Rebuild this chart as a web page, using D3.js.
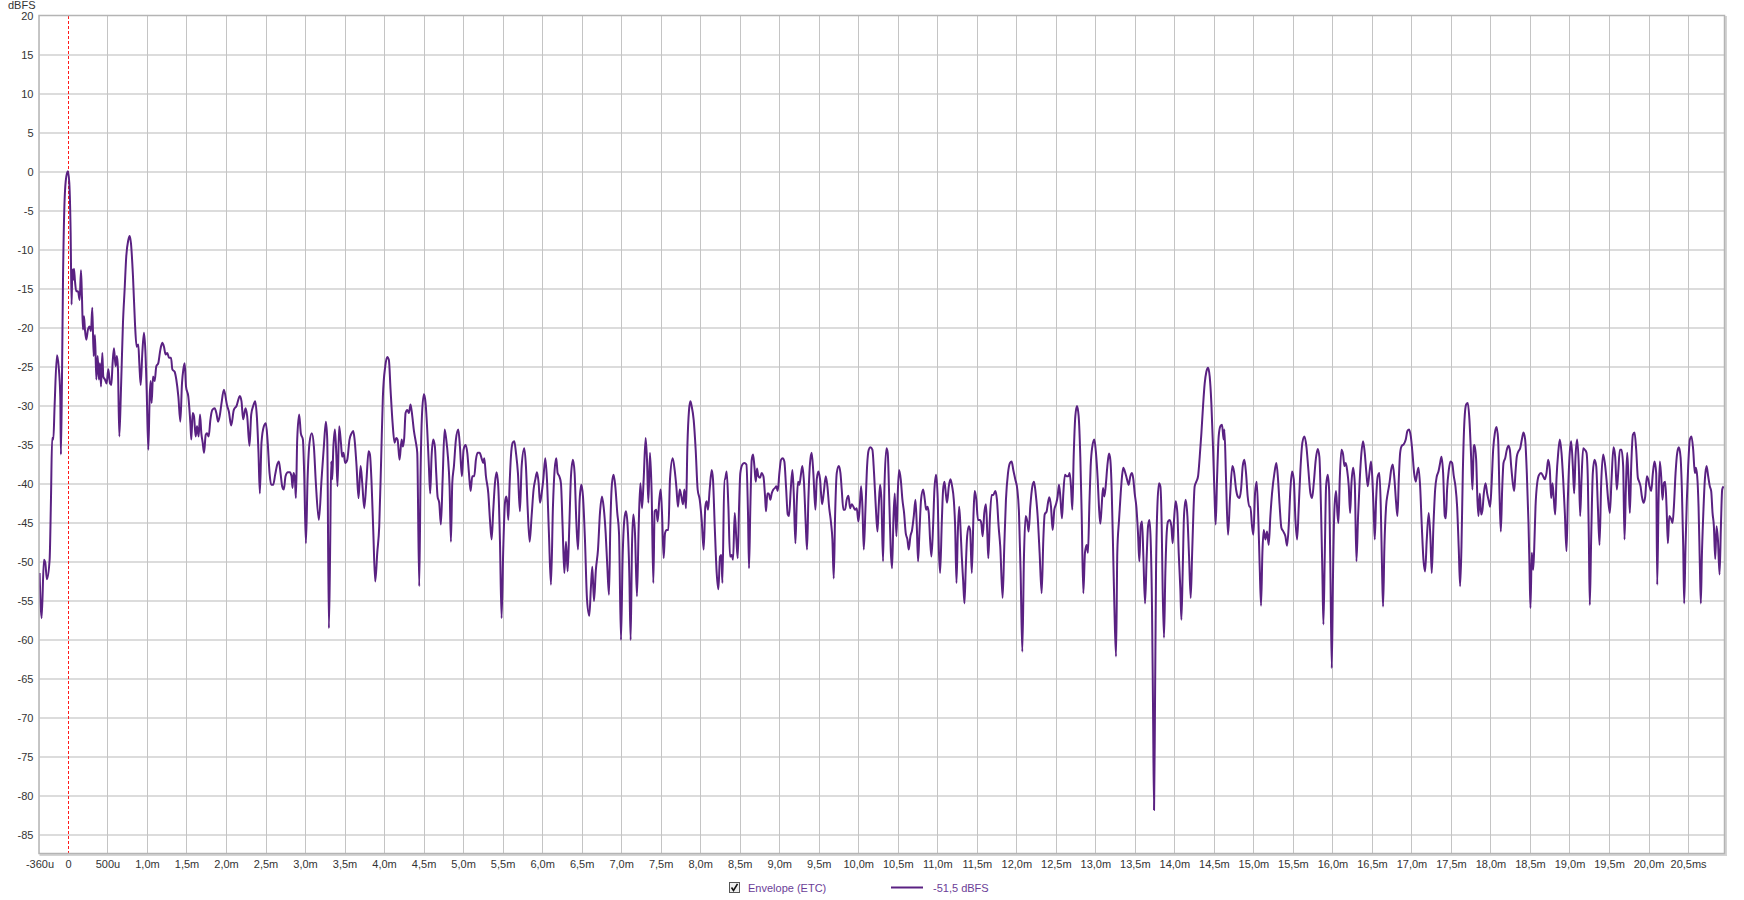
<!DOCTYPE html>
<html>
<head>
<meta charset="utf-8">
<script src="https://cdn.jsdelivr.net/npm/d3@7/dist/d3.min.js"></script>
<style>
  html, body { margin: 0; padding: 0; background: #ffffff; }
  svg { display: block; }
  text { font-family: "Liberation Sans", Arial, sans-serif; }
</style>
</head>
<body>
<svg id="chart" width="1744" height="900"></svg>
<script>
// ---- data (time in ms, level in dBFS) ----
const etcTimeMs = [
  -0.359,-0.333,-0.304,-0.287,-0.266,-0.232,-0.215,-0.2,-0.185,-0.169,-0.139,-0.118,-0.097,-0.089,-0.076,-0.063,-0.042,-0.021,0,0.017,
  0.034,0.046,0.055,0.068,0.076,0.089,0.105,0.127,0.148,0.165,0.177,0.19,0.203,0.215,0.232,0.253,0.274,0.291,0.308,0.325,
  0.342,0.359,0.376,0.392,0.405,0.418,0.435,0.447,0.468,0.489,0.511,0.532,0.549,0.565,0.582,0.603,0.62,0.633,0.65,0.671,
  0.696,0.717,0.738,0.764,0.781,0.797,0.823,0.848,0.869,0.89,0.903,0.92,0.941,0.962,0.979,0.996,1.017,1.034,1.046,1.059,
  1.076,1.097,1.118,1.143,1.169,1.194,1.215,1.236,1.257,1.278,1.304,1.321,1.35,1.371,1.397,1.422,1.443,1.46,1.477,1.494,
  1.523,1.549,1.561,1.578,1.595,1.616,1.633,1.654,1.671,1.688,1.705,1.722,1.743,1.759,1.781,1.802,1.827,1.857,1.878,1.899,
  1.92,1.941,
  1.973,2.015,2.036,2.065,2.099,2.133,2.175,2.196,2.217,2.247,2.268,2.297,2.319,2.344,2.369,2.39,2.411,2.428,2.449,2.479,
  2.504,2.525,2.551,2.572,2.597,2.622,2.648,2.669,2.69,2.711,2.732,2.753,2.783,2.808,2.829,2.842,2.854,2.871,2.884,2.901,
  2.926,2.947,2.973,2.989,3.011,3.032,3.057,3.086,3.112,3.137,3.175,3.209,3.238,3.264,3.281,3.302,3.319,3.331,3.344,3.357,
  3.378,3.395,3.411,3.432,3.454,3.47,3.487,3.508,3.534,3.563,3.589,3.61,3.627,3.652,3.677,3.703,3.724,3.749,3.778,3.804,
  3.821,3.842,3.863,3.888,3.914,3.939,3.964,3.985,4.015,4.04,4.061,4.082,4.108,4.133,4.154,4.171,4.196,4.222,4.238,4.255,
  4.272,4.293,4.314,4.335,4.357,4.378,4.403,4.42,4.445,4.462,4.479,4.504,4.525,4.546,4.567,4.584,4.601,4.622,4.643,4.66,
  4.677,4.698,4.719,4.741,4.766,4.787,4.808,4.829,4.846,4.863,4.884,4.909,4.939,4.96,4.985,5.006,5.032,5.053,5.074,5.095,
  5.116,
  5.141,5.162,5.184,5.209,5.234,5.255,5.268,5.289,5.319,5.34,5.361,5.382,5.403,5.424,5.445,5.466,5.487,5.508,5.53,5.546,
  5.559,5.572,5.589,5.605,5.627,5.648,5.669,5.694,5.719,5.741,5.774,5.795,5.816,5.842,5.867,5.892,5.914,5.935,5.956,5.973,
  5.994,6.015,6.04,6.061,6.086,6.112,6.137,6.158,6.179,6.196,6.217,6.238,6.259,6.281,6.302,6.323,6.344,6.365,6.39,6.411,
  6.432,6.454,6.475,6.496,6.517,6.542,6.568,6.597,6.618,6.635,6.656,6.68,6.707,6.732,6.757,6.778,6.804,6.825,6.846,6.863,
  6.884,6.905,6.926,6.951,6.973,6.998,7.019,7.04,7.061,7.082,7.103,7.12,7.137,7.154,7.175,7.2,7.222,7.243,7.264,7.285,
  7.31,7.327,7.344,7.365,7.386,7.407,7.424,7.445,7.462,7.483,7.5,7.517,7.538,7.555,7.576,7.597,7.618,7.652,7.677,7.698,
  7.719,7.741,7.762,7.783,7.8,7.821,7.838,7.859,7.876,7.892,7.918,7.943,7.968,7.994,8.019,8.044,8.065,8.082,8.099,8.12,
  8.146,8.162,8.184,8.209,8.23,8.251,8.268,8.281,8.306,
  8.314,8.335,8.357,8.378,8.399,8.416,8.437,8.458,8.475,8.492,8.508,8.534,8.559,8.585,8.605,8.618,8.635,8.652,8.669,8.686,
  8.703,8.719,8.736,8.757,8.778,8.8,8.821,8.833,8.85,8.867,8.888,8.905,8.926,8.947,8.964,8.981,9.002,9.023,9.044,9.065,
  9.086,9.108,9.124,9.146,9.167,9.184,9.205,9.222,9.238,9.255,9.272,9.293,9.314,9.335,9.352,9.369,9.39,9.411,9.432,9.458,
  9.475,9.496,9.517,9.542,9.563,9.589,9.61,9.631,9.656,9.673,9.69,9.707,9.728,9.754,9.775,9.791,9.812,9.833,9.854,9.876,
  9.897,9.918,9.939,9.96,9.981,10.002,10.019,10.036,10.053,10.07,10.091,10.112,10.133,10.154,10.179,10.2,10.222,10.243,10.259,10.276,
  10.293,10.314,10.331,10.357,10.373,10.395,10.411,10.428,10.445,10.462,10.483,10.5,10.517,10.538,10.559,10.58,10.601,10.622,10.639,10.66,
  10.681,10.703,10.724,10.741,10.757,10.774,10.795,10.821,10.842,10.859,10.876,10.892,10.909,10.926,10.947,10.964,10.985,11.006,11.019,11.036,
  11.057,11.074,11.091,11.108,11.124,11.146,11.167,11.188,11.209,11.226,11.243,11.26,11.277,11.293,11.31,11.327,11.344,11.361,11.378,11.399,
  11.416,11.437,11.458,
  11.473,11.494,11.515,11.54,11.557,11.574,11.595,11.616,11.633,11.646,11.667,11.688,11.709,11.734,11.755,11.776,11.797,11.827,11.848,11.869,
  11.895,11.92,11.941,11.962,11.987,12.013,12.034,12.055,12.076,12.097,12.118,12.139,12.156,12.177,12.203,12.224,12.245,12.27,12.295,12.321,
  12.342,12.359,12.384,12.401,12.418,12.439,12.46,12.481,12.502,12.523,12.54,12.557,12.578,12.595,12.616,12.637,12.658,12.675,12.692,12.709,
  12.726,12.747,12.768,12.789,12.81,12.827,12.848,12.869,12.89,12.907,12.924,12.941,12.962,12.987,13.008,13.03,13.046,13.063,13.08,13.097,
  13.114,13.131,13.152,13.173,13.19,13.207,13.224,13.241,13.262,13.278,13.3,13.321,13.338,13.354,13.38,13.401,13.422,13.443,13.464,13.481,
  13.498,13.519,13.54,13.557,13.574,13.591,13.608,13.629,13.65,13.667,13.684,13.7,13.717,13.73,13.743,13.755,13.768,13.785,13.806,13.823,
  13.84,13.852,13.869,13.886,13.903,13.92,13.941,13.962,13.979,13.996,14.017,14.038,14.055,14.076,14.089,14.105,14.122,14.143,14.165,14.186,
  14.207,14.224,14.241,14.257,14.278,14.3,14.321,14.342,14.363,14.384,14.405,14.426,14.447,14.468,14.489,14.506,14.523,14.54,14.561,14.582,
  14.603,14.624,
  14.633,14.654,14.679,14.705,14.734,14.755,14.781,14.802,14.823,14.844,14.865,14.886,14.907,14.928,14.949,14.962,14.983,15.0,15.021,15.042,
  15.063,15.08,15.097,15.114,15.131,15.152,15.173,15.194,15.215,15.236,15.266,15.291,15.312,15.333,15.354,15.38,15.405,15.426,15.447,15.468,
  15.489,15.511,15.532,15.553,15.574,15.595,15.62,15.646,15.671,15.696,15.722,15.743,15.764,15.789,15.814,15.835,15.857,15.873,15.886,15.903,
  15.92,15.941,15.958,15.975,15.992,16.008,16.025,16.046,16.063,16.076,16.093,16.114,16.135,16.152,16.169,16.186,16.207,16.224,16.241,16.262,
  16.283,16.304,16.325,16.346,16.367,16.388,16.409,16.43,16.447,16.468,16.489,16.506,16.523,16.536,16.553,16.574,16.595,16.612,16.629,16.641,
  16.658,16.679,16.7,16.722,16.743,16.764,16.785,16.806,16.823,16.84,16.857,16.878,16.903,16.928,16.949,16.97,16.992,17.013,17.034,17.055,
  17.072,17.089,17.11,17.131,17.152,17.173,17.194,17.219,17.241,17.257,17.278,17.3,17.321,17.342,17.363,17.38,17.401,17.422,17.435,17.451,
  17.473,17.494,17.515,17.536,17.557,17.578,17.599,17.616,17.633,17.65,17.671,17.692,17.713,17.734,17.755,17.772,17.789,
  17.797,17.819,17.835,17.848,17.865,17.882,17.899,17.916,17.937,17.958,17.979,17.996,18.013,18.034,18.055,18.076,18.097,18.114,18.131,18.148,
  18.165,18.186,18.207,18.228,18.245,18.262,18.283,18.3,18.316,18.333,18.354,18.376,18.397,18.418,18.439,18.46,18.481,18.494,18.506,18.523,
  18.54,18.553,18.57,18.591,18.616,18.641,18.667,18.688,18.709,18.73,18.751,18.768,18.785,18.802,18.819,18.835,18.857,18.878,18.899,18.92,
  18.941,18.962,18.979,19.0,19.021,19.042,19.059,19.076,19.097,19.118,19.135,19.152,19.173,19.194,19.215,19.232,19.245,19.257,19.274,19.295,
  19.316,19.338,19.359,19.38,19.401,19.426,19.447,19.468,19.489,19.511,19.532,19.557,19.578,19.599,19.616,19.637,19.658,19.679,19.696,19.713,
  19.73,19.747,19.764,19.781,19.802,19.823,19.844,19.865,19.882,19.899,19.916,19.937,19.958,19.979,19.996,20.013,20.034,20.055,20.076,20.097,
  20.11,20.127,20.143,20.16,20.177,20.194,20.211,20.228,20.245,20.262,20.283,20.304,20.321,20.342,20.363,20.384,20.405,20.422,20.439,20.451,
  20.468,20.485,20.502,20.523,20.544,20.565,20.586,20.599,20.616,20.633,20.65,20.662,20.675,20.692,20.713,20.734,20.755,20.776,20.793,20.81,
  20.827,20.844,20.861,20.878,20.899,20.916,20.932,20.949
];
const etcLevelDb = [
  -51.4,-57.2,-49.7,-50.1,-52.2,-49.7,-42,-34.1,-34.3,-30,-23.5,-24.9,-28.8,-36.2,-27,-14.2,-3.5,-0.6,0.1,-1.4,
  -7.8,-17,-12.5,-13.8,-12.4,-14,-15.3,-15.3,-16.4,-12.6,-15.9,-20.2,-18.5,-20.2,-21.5,-20.2,-19.8,-20.4,-17.4,-23.6,
  -20.9,-26.6,-23.6,-26.6,-24.5,-27.5,-23.2,-26.2,-26.6,-27.1,-25.3,-27.1,-27.3,-24.5,-22.6,-24.9,-23.6,-25.3,-33.9,-27.9,
  -19.4,-15.1,-10.8,-8.7,-8.2,-9.1,-13.4,-19.4,-22.4,-22.1,-24.5,-27.3,-23.2,-20.6,-22.8,-27.9,-35.6,-28.8,-26.8,-29.6,
  -26.2,-26.8,-24.9,-24.5,-22.8,-21.9,-22.4,-23.4,-23.2,-23.8,-23.8,-25.3,-25.6,-26.6,-28.8,-32,-27.1,-25.3,-24.5,-27.5,
  -28.8,-32.2,-34.3,-30.9,-31.3,-33.9,-32.6,-33.9,-31.1,-33.5,-34.7,-36,-33.7,-33.5,-33.9,-31.8,-30.5,-30.3,-30.9,-32,
  -31.3,-29.8,
  -27.9,-30,-30.7,-32.5,-30.5,-30,-28.7,-29.4,-31.7,-30.3,-31.3,-35.1,-31.1,-30,-29.4,-31.3,-36,-41.2,-34.7,-32.6,
  -32.2,-34.3,-38.6,-40.1,-40.1,-38.8,-37.5,-37.1,-38.6,-40.3,-40.7,-39,-38.5,-38.5,-39,-40.5,-38.6,-39.2,-41.8,-34.3,
  -31.1,-33.5,-34.3,-38.6,-47.6,-39.4,-34.7,-33.5,-35.2,-39.9,-44.6,-39.4,-35.2,-32,-34.3,-58.5,-47.1,-37.1,-39.4,-35.6,
  -33,-36,-40.3,-32.6,-34.7,-36.5,-36,-37.3,-36.9,-34.3,-33.5,-33.2,-34.3,-37.7,-41.8,-37.7,-39.9,-43.1,-39.4,-35.8,
  -36.2,-39.9,-45.9,-52.5,-48.8,-45.4,-36.5,-28.8,-24.9,-23.7,-24.1,-27.9,-32.2,-34.7,-34.1,-34.3,-36.9,-34.3,-35.2,-34.1,
  -30.9,-30.5,-30.9,-29.8,-31.3,-33.2,-34.7,-36,-53.1,-38.6,-31.3,-28.5,-29.6,-33,-37.7,-41.2,-36.5,-34.3,-35.2,-38.6,
  -41.6,-42.4,-45.2,-39.4,-33,-34.3,-36.5,-40.3,-47.4,-39.9,-37.7,-34.3,-33,-35.2,-39,-35.6,-35,-36,-38.6,-40.9,
  -39,
  -39,-36.9,-36,-36,-36.7,-37.3,-36.7,-39,-41.2,-44.6,-47.1,-43.3,-39.9,-38.5,-40.3,-47.1,-57.2,-48.4,-42.4,-41.6,
  -42.4,-44.6,-39.9,-36.5,-34.7,-34.5,-36,-38.6,-43.5,-37.7,-35.4,-37.7,-42.9,-47.4,-44.1,-40.7,-39.4,-38.5,-39.9,-42.4,
  -41.2,-39.4,-36.7,-39.4,-46.3,-52.9,-42.9,-38.2,-36.7,-38.6,-39,-39.9,-45.4,-51.4,-47.4,-51.2,-45.4,-39,-36.9,-38.6,
  -44.6,-48.4,-42,-40.1,-41.6,-47.1,-54.8,-56.9,-53.1,-50.6,-55,-51,-48.4,-43.7,-41.6,-42.9,-46.3,-50.6,-54.2,-45.4,
  -39.9,-38.8,-40.3,-43.7,-46.3,-60,-49.3,-44.6,-43.5,-45.4,-51.4,-60,-48,-43.9,-46.3,-54.4,-45.4,-39.9,-43.1,-39.4,
  -34.1,-36.9,-42.4,-36,-41.2,-52.7,-43.5,-43.3,-44.8,-42,-40.7,-43.7,-49.5,-46.3,-45.9,-45.9,-39.4,-36.7,-38.2,-40.3,
  -42.9,-40.7,-41.6,-42.6,-40.7,-43.1,-35.2,-30.5,-29.4,-30,-31.8,-35.6,-40.7,-42,-44.6,-48.4,-42.9,-42.2,-43.3,-40.7,
  -38.2,-39.4,-45.4,-51.4,-53.5,-49.3,-49.1,-52.7,-39.4,
  -39.4,-38.4,-42.9,-49.3,-49.1,-49.7,-43.7,-47.1,-49.5,-42.9,-38.6,-37.5,-37.3,-37.5,-43.7,-50.8,-42.9,-36.9,-36.2,-37.7,
  -39.7,-38,-39,-39.2,-38.6,-39,-41.6,-43.5,-41.2,-41.2,-42,-41.2,-40.7,-40.5,-40.3,-40.9,-38.6,-36.9,-36.7,-37.1,
  -40.3,-43.9,-44.1,-40.7,-38.2,-41.2,-47.6,-42.4,-39.7,-40.1,-39,-37.7,-39.9,-45,-48.4,-42,-37.3,-36,-38.6,-43.3,
  -39.4,-38.4,-39.4,-42.6,-41.2,-39,-40.3,-42.9,-45,-47.1,-52.1,-44.1,-38.6,-37.7,-38.6,-40.7,-43.3,-43.3,-42,-41.5,
  -43.1,-42.6,-42.9,-43.3,-43.1,-44.8,-42.9,-40.3,-42.9,-48.4,-43.3,-37.7,-35.6,-35.3,-35.6,-38.6,-42.9,-46.1,-42.9,-40.1,
  -42,-49.9,-40.7,-35.4,-36,-42.9,-48.4,-50.8,-44.6,-41.2,-46.7,-41.2,-38.2,-39.4,-42,-43.7,-46.3,-47.1,-48.4,-46.7,
  -45.9,-44.1,-42,-45.4,-49.9,-46.3,-42,-40.7,-42,-43.3,-42.9,-43.7,-47.1,-49.3,-45.4,-40.7,-38.8,-42,-48,-51.4,
  -45,-40.7,-39.7,-41.2,-42.4,-40.3,-39.4,-40.3,-42,-45.4,-52.7,-46.3,-42.9,-45.4,-49.3,-52.3,-55.3,-50.6,-46.7,-45.4,
  -45.9,-51.4,-44.1,
  -40.9,-42,-44.6,-44.6,-45,-46.7,-43.7,-42.6,-46.3,-49.5,-44.1,-41.4,-41.4,-40.9,-42,-45.4,-48,-54.6,-48,-42,
  -38.6,-37.3,-37.1,-38.2,-39.4,-40.7,-43.7,-51.4,-61.5,-49.3,-44.1,-44.8,-46.1,-42.9,-40.3,-39.7,-41.2,-44.1,-48.8,-54,
  -47.1,-43.9,-43.5,-42.4,-41.7,-42.9,-45.9,-43.3,-42.6,-41.6,-40.1,-41.6,-44.4,-41.2,-38.8,-39,-39,-38.6,-40.3,-43.3,
  -36.5,-31.3,-30,-31.3,-36.5,-43.7,-54,-48.8,-47.8,-48.8,-42.9,-37.7,-35.2,-34.3,-36,-39.4,-42.9,-45.1,-42.9,-40.5,
  -41.6,-40.3,-37.7,-36.1,-36.9,-40.7,-48,-55.7,-62.1,-48.8,-44.6,-41.2,-39,-37.9,-38.6,-39.4,-40.1,-39,-38.6,-39.4,
  -41.2,-42.9,-46.3,-49.9,-45.4,-44.8,-49.3,-55.3,-49.3,-45.4,-44.6,-47.1,-55.7,-68.5,-81.8,-68.5,-51.4,-42.9,-39.9,-40.3,
  -45.4,-53.5,-59.7,-51.4,-46.3,-44.8,-44.6,-45.4,-47.6,-44.6,-42.2,-43.7,-48.8,-53.5,-57.4,-51.4,-44.1,-42,-44.1,-49.3,
  -54.6,-49.3,-43.7,-40.3,-39.7,-39,-36.5,-33.5,-30,-27.1,-25.6,-25.1,-26.2,-29.6,-35.2,-40.7,-45.2,-39.4,-33.9,-32.6,
  -32.4,-34.3,
  -33,-39.4,-46.5,-41.6,-37.7,-38.4,-40.7,-41.6,-41.8,-40.7,-37.7,-36.9,-38.6,-41.6,-42.9,-42.9,-45.4,-46.5,-41.2,-39.7,
  -44.6,-50.6,-55.6,-48.8,-45.9,-47.1,-46.1,-47.8,-44.1,-41.2,-38.6,-37.3,-39.4,-42.9,-45.6,-46.1,-46.7,-47.9,-45.4,-40.7,
  -38.4,-39.4,-44.6,-47.1,-42.9,-38.2,-34.7,-33.9,-35.2,-38.2,-41.2,-41.8,-39.9,-36.9,-35.5,-36.5,-43.7,-51.4,-58,-49.3,
  -40.3,-38.8,-40.7,-51.4,-63.6,-51.4,-43.3,-40.9,-43.7,-45,-39.4,-35.6,-36.2,-37.7,-37.3,-38.2,-40.3,-43.7,-39.9,-37.9,
  -39.9,-49.9,-44.1,-39.4,-36,-34.5,-36,-38.6,-40.3,-38.6,-37.1,-39.4,-43.7,-47.1,-42,-39,-38.6,-42.9,-51.4,-55.7,
  -48,-42.9,-41.2,-39.9,-38.2,-37.5,-39.4,-42.4,-44.1,-39.4,-36,-35.1,-34.9,-34.3,-33.2,-33,-33.9,-36,-38.6,-39.7,
  -38.6,-37.9,-40.3,-45.4,-49.7,-51.2,-47.1,-43.7,-47.1,-51.4,-45.4,-40.7,-39,-38.4,-37.3,-36.5,-38.6,-44.1,-44.4,-40.7,
  -38.2,-37.1,-37.3,-39,-40.3,-42.9,-48.4,-53.1,-48,-38.6,-31.8,-29.8,-29.6,-31.8,-36.5,-40.7,-35.2,
  -35,-36.9,-42,-44.1,-41.2,-43.9,-43.3,-41.2,-39.9,-41.2,-42.2,-42.9,-40.3,-35.6,-33.5,-32.7,-34.3,-41.2,-46.1,-40.7,
  -37.3,-36.7,-35.6,-35.1,-35.6,-37.7,-39.9,-40.9,-38.6,-36.5,-35.8,-35.4,-34.3,-33.4,-34.3,-38.6,-45,-50.6,-55.9,-48.8,
  -51,-48.4,-42.9,-39.9,-38.8,-38.6,-39,-39.4,-38.6,-36.9,-38.2,-41.8,-39.9,-42,-43.9,-39.4,-36,-34.3,-36,-39.4,
  -43.7,-48.6,-42,-36.5,-34.5,-37.7,-41.2,-36.5,-34.3,-37.7,-44.1,-39.4,-35.4,-35.6,-36,-39.4,-47.1,-55.5,-47.1,-38.6,
  -36.9,-37.7,-42.9,-47.8,-39.9,-36.2,-37.3,-39.4,-42,-43.7,-39.4,-35.3,-36.5,-40.7,-38.6,-35.6,-35.6,-37.7,-47.1,-40.7,
  -36,-39.4,-43.7,-37.7,-33.7,-33.4,-35.6,-39.2,-39.7,-40.3,-41.6,-42.4,-41.6,-39,-39.4,-40.3,-40.9,-38.6,-37.1,-38.6,
  -52.9,-42,-37.1,-39,-42,-39.9,-39.7,-42.9,-47.6,-44.1,-44.4,-45,-42.9,-38.6,-36,-35.3,-36.5,-40.7,-48,-55.3,
  -48,-42,-37.7,-34.3,-33.9,-35.6,-38.6,-37.9,-39,-42.9,-50.6,-55.3,-49.3,-44.1,-39.4,-37.7,-39,-40.3,-40.9,-43.7,
  -45.4,-49.6,-45.4,-47.1,-51.6,-45.4,-40.7,-40.3
];

// ---- axes ----
const yTicks = [20,15,10,5,0,-5,-10,-15,-20,-25,-30,-35,-40,-45,-50,-55,-60,-65,-70,-75,-80,-85];
const xTickValues = [-0.36,0,0.5,1,1.5,2,2.5,3,3.5,4,4.5,5,5.5,6,6.5,7,7.5,8,8.5,9,9.5,10,10.5,11,11.5,12,12.5,13,13.5,14,14.5,15,15.5,16,16.5,17,17.5,18,18.5,19,19.5,20,20.5];
const xTickLabels = ["-360u","0","500u","1,0m","1,5m","2,0m","2,5m","3,0m","3,5m","4,0m","4,5m","5,0m","5,5m","6,0m","6,5m","7,0m","7,5m","8,0m","8,5m","9,0m","9,5m","10,0m","10,5m","11,0m","11,5m","12,0m","12,5m","13,0m","13,5m","14,0m","14,5m","15,0m","15,5m","16,0m","16,5m","17,0m","17,5m","18,0m","18,5m","19,0m","19,5m","20,0m","20,5ms"];
const xDomain = [-0.36, 20.955];
const yDomain = [-87.3, 20];
const yAxisTitle = "dBFS";
const legendLabel = "Envelope (ETC)";
const legendValue = "-51,5 dBFS";

// ---- layout ----
const plot = { left: 39.5, top: 16, right: 1724, bottom: 853 };
const lineColor = "#5a2182";

const svg = d3.select("#chart");
const x = d3.scaleLinear().domain(xDomain).range([plot.left, plot.right]);
const y = d3.scaleLinear().domain(yDomain).range([plot.bottom, plot.top]);

// frame shadow
svg.append("rect")
  .attr("x", plot.left + 1).attr("y", plot.top + 1)
  .attr("width", plot.right - plot.left + 1).attr("height", plot.bottom - plot.top + 1)
  .attr("fill", "none").attr("stroke", "#d4d4d4").attr("stroke-width", 2);

// plot background
svg.append("rect")
  .attr("x", plot.left).attr("y", plot.top)
  .attr("width", plot.right - plot.left).attr("height", plot.bottom - plot.top)
  .attr("fill", "#ffffff");

// horizontal grid
const gGrid = svg.append("g");
gGrid.selectAll("line.h").data(yTicks.filter(v => v < 20)).join("line")
  .attr("class", "h")
  .attr("x1", plot.left).attr("x2", plot.right)
  .attr("y1", d => Math.round(y(d))).attr("y2", d => Math.round(y(d)))
  .attr("stroke", "#dcdcdc").attr("stroke-width", 2);

// vertical grid
gGrid.selectAll("line.v").data(xTickValues.filter(v => v > 0)).join("line")
  .attr("class", "v")
  .attr("x1", d => Math.round(x(d)) + 0.5).attr("x2", d => Math.round(x(d)) + 0.5)
  .attr("y1", plot.top).attr("y2", plot.bottom)
  .attr("stroke", "#c4c4c4").attr("stroke-width", 1);

// zero marker (red dashed)
svg.append("line")
  .attr("x1", Math.round(x(0)) + 0.5).attr("x2", Math.round(x(0)) + 0.5)
  .attr("y1", plot.top).attr("y2", plot.bottom)
  .attr("stroke", "#ff1a1a").attr("stroke-width", 1).attr("stroke-dasharray", "3,2");

// frame
svg.append("rect")
  .attr("x", plot.left - 0.5).attr("y", plot.top - 0.5)
  .attr("width", plot.right - plot.left + 1).attr("height", plot.bottom - plot.top + 1)
  .attr("fill", "none").attr("stroke", "#b4b4b4").attr("stroke-width", 1.5);

// clip
svg.append("clipPath").attr("id", "clip").append("rect")
  .attr("x", plot.left).attr("y", plot.top)
  .attr("width", plot.right - plot.left).attr("height", plot.bottom - plot.top);

const data = etcTimeMs.map((t, i) => [t, etcLevelDb[i]]);
const line = d3.line().x(d => x(d[0])).y(d => y(d[1])).curve(d3.curveMonotoneX);
svg.append("path")
  .datum(data)
  .attr("clip-path", "url(#clip)")
  .attr("d", line)
  .attr("fill", "none")
  .attr("stroke", lineColor)
  .attr("stroke-width", 2)
  .attr("stroke-linejoin", "round");

// y axis labels
const yAxis = d3.axisLeft(y).tickValues(yTicks).tickSize(0).tickPadding(5).tickFormat(d => String(d));
const gy = svg.append("g").attr("transform", `translate(${plot.left - 1},0)`).call(yAxis);
gy.select(".domain").remove();
gy.selectAll("text").attr("font-size", 11).attr("fill", "#333").attr("font-family", "Liberation Sans, Arial, sans-serif");

// x axis labels
const xAxis = d3.axisBottom(x).tickValues(xTickValues).tickSize(0).tickPadding(7)
  .tickFormat((d, i) => xTickLabels[i]);
const gx = svg.append("g").attr("transform", `translate(0,${plot.bottom})`).call(xAxis);
gx.select(".domain").remove();
gx.selectAll("text").attr("font-size", 11).attr("fill", "#333").attr("font-family", "Liberation Sans, Arial, sans-serif");
// first label sits left of the frame edge
gx.selectAll(".tick").filter((d, i) => i === 0).select("text").attr("dx", 0);

// y title
svg.append("text").attr("x", 8).attr("y", 9)
  .attr("font-size", 11).attr("fill", "#333").text(yAxisTitle);

// legend
const lg = svg.append("g").attr("transform", "translate(729,882)");
lg.append("rect").attr("x", 0.5).attr("y", 0.5).attr("width", 10).attr("height", 10)
  .attr("fill", "#eeeeee").attr("stroke", "#555").attr("stroke-width", 1);
lg.append("path").attr("d", "M2.5,5.5 L4.5,8.5 L8.5,1.8")
  .attr("fill", "none").attr("stroke", "#111").attr("stroke-width", 1.6);
lg.append("text").attr("x", 19).attr("y", 9.5).attr("font-size", 11)
  .attr("fill", "#6b3d97").text(legendLabel);
lg.append("line").attr("x1", 162).attr("x2", 194).attr("y1", 5.5).attr("y2", 5.5)
  .attr("stroke", lineColor).attr("stroke-width", 2);
lg.append("text").attr("x", 204).attr("y", 9.5).attr("font-size", 11)
  .attr("fill", "#6b3d97").text(legendValue);
</script>
</body>
</html>
